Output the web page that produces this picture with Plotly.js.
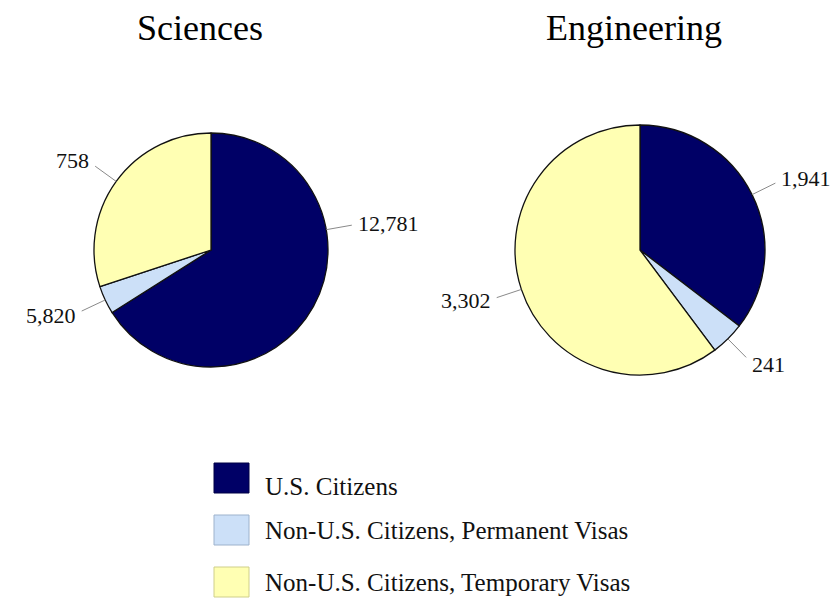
<!DOCTYPE html>
<html><head><meta charset="utf-8">
<script src="https://cdn.plot.ly/plotly-3.0.1.min.js"></script>
<style>html,body{margin:0;padding:0;background:#fff}</style>
</head><body><div id="chart" style="width:835px;height:601px"></div>
<script>
const categories = ['U.S. Citizens', 'Non-U.S. Citizens, Permanent Visas', 'Non-U.S. Citizens, Temporary Visas'];
const sciencesValues = [12781, 758, 5820];
const engineeringValues = [1941, 241, 3302];
// value labels exactly as printed beside the slices in the original figure
const sciencesLabels = ['12,781', '5,820', '758'];
const engineeringLabels = ['1,941', '241', '3,302'];
const colors = ['#000066', '#CCE0F8', '#FFFFB3'];
const swatchBorders = ['#000044', '#9DB2CC', '#CFCF8A'];
const panelTitles = ['Sciences', 'Engineering'];

const W = 835, H = 601;
const FONT = 'Liberation Serif, Times New Roman, serif';
// panel geometry (pixels) and label placement tweaks (layout only)
const panels = [
  {cx: 211, cy: 250, r: 117, titleX: 200, values: sciencesValues, labels: sciencesLabels, title: panelTitles[0], labelAngle: {0: 80}},
  {cx: 640, cy: 250, r: 125, titleX: 634, values: engineeringValues, labels: engineeringLabels, title: panelTitles[1], labelAngle: {}}
];

const data = [];
const annotations = [];
const shapes = [];
const labelSize = 22;
const leaderLen = 26;

panels.forEach(p => {
  data.push({
    type: 'pie',
    values: p.values,
    labels: categories,
    sort: false,
    direction: 'clockwise',
    rotation: 0,
    textinfo: 'none',
    showlegend: false,
    marker: {colors: colors, line: {color: '#111', width: 1.3}},
    domain: {x: [(p.cx - p.r) / W, (p.cx + p.r) / W], y: [1 - (p.cy + p.r) / H, 1 - (p.cy - p.r) / H]}
  });
  annotations.push({
    xref: 'paper', yref: 'paper', x: p.titleX / W, y: 1 - 28 / H, xanchor: 'center', yanchor: 'middle',
    text: p.title, showarrow: false, font: {family: FONT, size: 36, color: '#000'}
  });
  const total = p.values.reduce((a, b) => a + b, 0);
  let cum = 0;
  p.values.forEach((v, i) => {
    let mid = (cum + v / 2) / total * 2 * Math.PI;
    cum += v;
    if (p.labelAngle[i] !== undefined) mid = p.labelAngle[i] * Math.PI / 180;
    const dx = Math.sin(mid), dy = -Math.cos(mid);
    const ex = p.cx + p.r * dx, ey = p.cy + p.r * dy;
    const lx = p.cx + (p.r + leaderLen) * dx, ly = p.cy + (p.r + leaderLen) * dy;
    shapes.push({
      type: 'line', xref: 'paper', yref: 'paper',
      x0: ex / W, y0: 1 - ey / H, x1: lx / W, y1: 1 - ly / H,
      line: {color: '#8a8a8a', width: 1}
    });
    const side = dx > 0.3 ? 1 : (dx < -0.3 ? -1 : 0);
    annotations.push({
      xref: 'paper', yref: 'paper',
      x: (lx + side * 4) / W, y: 1 - (ly + dy * 10) / H,
      xanchor: side > 0 ? 'left' : (side < 0 ? 'right' : 'center'), yanchor: 'middle',
      text: p.labels[i], showarrow: false,
      font: {family: FONT, size: labelSize, color: '#111'}
    });
  });
});

// legend
const legendTop = 478, legendStep = 52;
categories.forEach((c, i) => {
  const yc = legendTop + i * legendStep;
  shapes.push({
    type: 'rect', xref: 'paper', yref: 'paper',
    x0: 214 / W, x1: 249 / W, y0: 1 - (yc - 15) / H, y1: 1 - (yc + 15) / H,
    fillcolor: colors[i], line: {color: swatchBorders[i], width: 1}
  });
  annotations.push({
    xref: 'paper', yref: 'paper', x: 263 / W, y: 1 - (yc + (i === 0 ? 9 : 0)) / H,
    xanchor: 'left', yanchor: 'middle', showarrow: false, text: c,
    font: {family: FONT, size: 25, color: '#111'}
  });
});

const layout = {
  width: W, height: H,
  margin: {l: 0, r: 0, t: 0, b: 0},
  paper_bgcolor: '#fff', plot_bgcolor: '#fff',
  showlegend: false,
  annotations: annotations,
  shapes: shapes,
  font: {family: FONT}
};
Plotly.newPlot('chart', data, layout, {displayModeBar: false, staticPlot: true});
</script></body></html>
